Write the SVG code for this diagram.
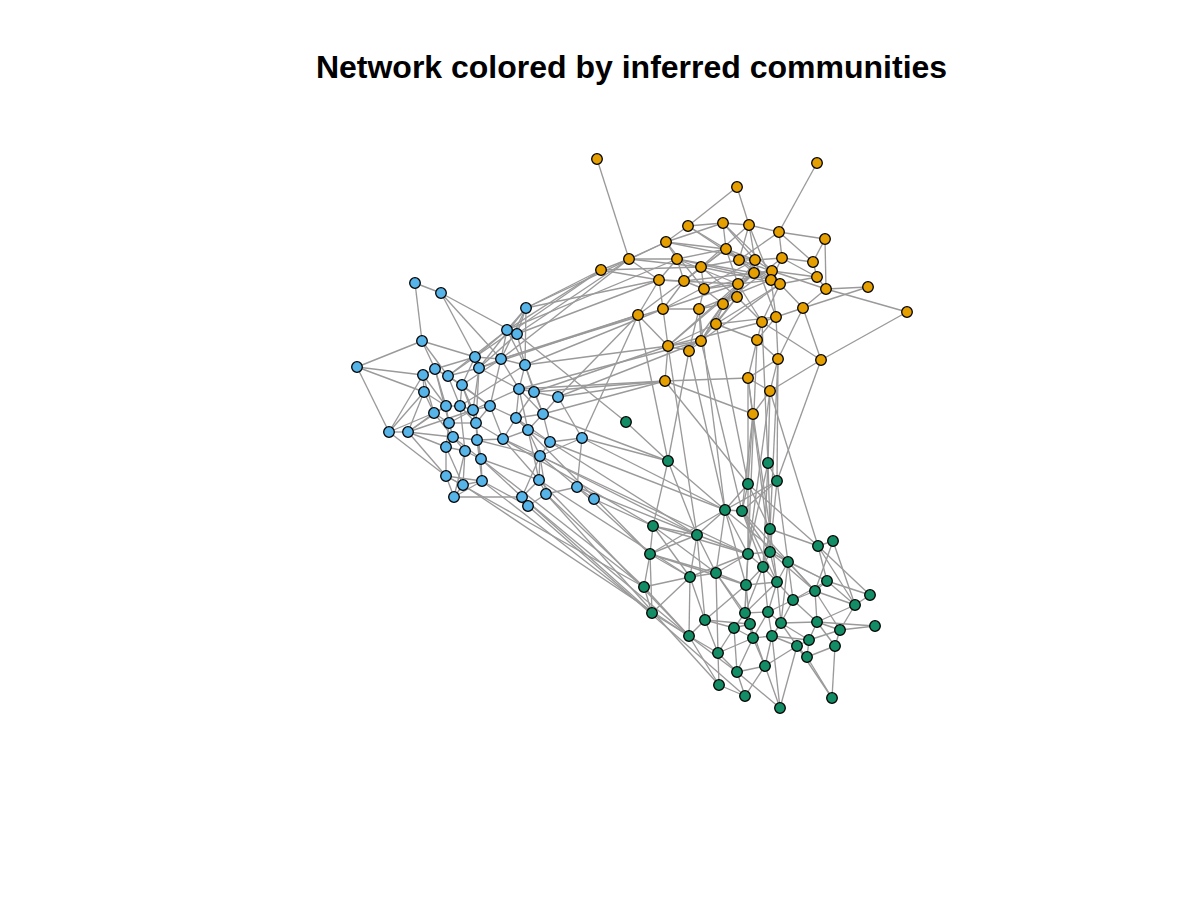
<svg xmlns="http://www.w3.org/2000/svg" width="1200" height="900" viewBox="0 0 1200 900">
<style>
.e path{stroke:#9a9a9a;stroke-width:1.35;fill:none}
circle{stroke:#000;stroke-width:1.3}
.o circle{fill:#E69F00}
.b circle{fill:#56B4E9}
.g circle{fill:#138D65}
.t{font-family:"Liberation Sans",Arial,sans-serif;font-weight:bold;font-size:32px;fill:#000}
</style>
<rect width="1200" height="900" fill="#fff"/>
<text class="t" x="631.5" y="78" text-anchor="middle">Network colored by inferred communities</text>
<g id="edges" class="e">
<path d="M597 159L629 259"/><path d="M817 163L779 232"/><path d="M737 187L688 226"/><path d="M737 187L749 225"/><path d="M688 226L666 242"/><path d="M688 226L723 223"/><path d="M688 226L726 249"/><path d="M723 223L749 225"/><path d="M723 223L726 249"/><path d="M723 223L755 260"/><path d="M749 225L779 232"/><path d="M749 225L755 260"/><path d="M749 225L739 260"/><path d="M749 225L771 280"/><path d="M749 225L701 267"/><path d="M779 232L825 239"/><path d="M779 232L782 258"/><path d="M779 232L813 262"/><path d="M779 232L739 260"/><path d="M825 239L813 262"/><path d="M825 239L826 289"/><path d="M666 242L629 259"/><path d="M666 242L723 223"/><path d="M666 242L755 260"/><path d="M666 242L677 259"/><path d="M629 259L601 270"/><path d="M629 259L677 259"/><path d="M629 259L701 267"/><path d="M629 259L659 280"/><path d="M601 270L659 280"/><path d="M677 259L726 249"/><path d="M677 259L659 280"/><path d="M677 259L754 273"/><path d="M726 249L739 260"/><path d="M726 249L738 284"/><path d="M701 267L739 260"/><path d="M701 267L684 281"/><path d="M701 267L780 284"/><path d="M739 260L755 260"/><path d="M739 260L754 273"/><path d="M739 260L772 271"/><path d="M755 260L782 258"/><path d="M755 260L754 273"/><path d="M755 260L776 317"/><path d="M782 258L813 262"/><path d="M782 258L817 277"/><path d="M782 258L771 280"/><path d="M813 262L817 277"/><path d="M754 273L772 271"/><path d="M754 273L780 284"/><path d="M754 273L723 304"/><path d="M772 271L780 284"/><path d="M772 271L826 289"/><path d="M771 280L780 284"/><path d="M771 280L738 284"/><path d="M780 284L817 277"/><path d="M817 277L826 289"/><path d="M826 289L868 287"/><path d="M826 289L907 312"/><path d="M868 287L803 308"/><path d="M826 289L803 308"/><path d="M780 284L803 308"/><path d="M659 280L684 281"/><path d="M659 280L638 315"/><path d="M659 280L663 309"/><path d="M684 281L704 289"/><path d="M684 281L726 249"/><path d="M704 289L738 284"/><path d="M704 289L699 309"/><path d="M738 284L737 297"/><path d="M738 284L668 346"/><path d="M737 297L723 304"/><path d="M737 297L701 341"/><path d="M737 297L762 322"/><path d="M723 304L699 309"/><path d="M723 304L716 324"/><path d="M803 308L776 317"/><path d="M803 308L778 359"/><path d="M803 308L821 360"/><path d="M776 317L762 322"/><path d="M776 317L778 359"/><path d="M762 322L757 340"/><path d="M762 322L821 360"/><path d="M638 315L668 346"/><path d="M663 309L699 309"/><path d="M663 309L668 346"/><path d="M699 309L701 341"/><path d="M716 324L668 346"/><path d="M716 324L757 340"/><path d="M757 340L748 378"/><path d="M668 346L689 351"/><path d="M668 346L754 273"/><path d="M689 351L701 341"/><path d="M689 351L738 284"/><path d="M701 341L755 260"/><path d="M778 359L770 391"/><path d="M778 359L757 340"/><path d="M821 360L907 312"/><path d="M821 360L770 391"/><path d="M665 381L668 346"/><path d="M665 381L748 378"/><path d="M665 381L753 414"/><path d="M748 378L770 391"/><path d="M748 378L753 414"/><path d="M770 391L753 414"/><path d="M677 259L771 280"/><path d="M704 289L772 271"/><path d="M663 309L755 260"/><path d="M666 242L704 289"/><path d="M601 270L701 267"/><path d="M699 309L771 280"/><path d="M716 324L780 284"/><path d="M723 304L782 258"/><path d="M659 280L738 284"/><path d="M638 315L726 249"/><path d="M684 281L772 271"/><path d="M688 226L739 260"/><path d="M726 249L780 284"/><path d="M701 267L737 297"/><path d="M677 259L738 284"/><path d="M723 223L772 271"/><path d="M701 341L780 284"/><path d="M716 324L776 317"/><path d="M668 346L762 322"/>
<path d="M666 242L726 249"/><path d="M677 259L684 281"/><path d="M701 267L704 289"/><path d="M739 260L771 280"/><path d="M755 260L772 271"/><path d="M754 273L738 284"/><path d="M772 271L817 277"/><path d="M771 280L776 317"/><path d="M780 284L762 322"/><path d="M684 281L663 309"/><path d="M704 289L723 304"/><path d="M738 284L762 322"/><path d="M737 297L716 324"/><path d="M723 304L701 341"/><path d="M699 309L689 351"/><path d="M757 340L776 317"/><path d="M778 359L748 378"/><path d="M668 346L701 341"/><path d="M726 249L755 260"/><path d="M663 309L738 284"/>
<path d="M415 283L441 293"/><path d="M415 283L422 341"/><path d="M441 293L475 357"/><path d="M441 293L517 334"/><path d="M526 308L507 330"/><path d="M526 308L517 334"/><path d="M526 308L501 359"/><path d="M526 308L479 368"/><path d="M507 330L517 334"/><path d="M507 330L475 357"/><path d="M507 330L501 359"/><path d="M507 330L448 376"/><path d="M517 334L525 365"/><path d="M517 334L479 368"/><path d="M422 341L357 367"/><path d="M422 341L475 357"/><path d="M422 341L435 369"/><path d="M357 367L423 375"/><path d="M357 367L424 392"/><path d="M475 357L501 359"/><path d="M475 357L479 368"/><path d="M475 357L435 369"/><path d="M475 357L462 385"/><path d="M501 359L525 365"/><path d="M501 359L490 406"/><path d="M501 359L519 389"/><path d="M525 365L519 389"/><path d="M525 365L534 392"/><path d="M525 365L460 406"/><path d="M479 368L473 410"/><path d="M479 368L448 376"/><path d="M479 368L519 389"/><path d="M435 369L423 375"/><path d="M435 369L448 376"/><path d="M435 369L446 406"/><path d="M423 375L424 392"/><path d="M423 375L434 413"/><path d="M448 376L462 385"/><path d="M448 376L460 406"/><path d="M462 385L473 410"/><path d="M462 385L476 423"/><path d="M462 385L490 406"/><path d="M424 392L446 406"/><path d="M424 392L389 432"/><path d="M424 392L434 413"/><path d="M519 389L534 392"/><path d="M519 389L516 418"/><path d="M519 389L473 410"/><path d="M534 392L558 397"/><path d="M534 392L543 414"/><path d="M558 397L543 414"/><path d="M558 397L582 438"/><path d="M446 406L460 406"/><path d="M446 406L434 413"/><path d="M446 406L449 423"/><path d="M460 406L473 410"/><path d="M460 406L476 423"/><path d="M473 410L490 406"/><path d="M473 410L449 423"/><path d="M490 406L516 418"/><path d="M490 406L476 423"/><path d="M434 413L449 423"/><path d="M434 413L408 432"/><path d="M516 418L543 414"/><path d="M516 418L528 430"/><path d="M516 418L503 439"/><path d="M543 414L528 430"/><path d="M543 414L550 442"/><path d="M449 423L453 437"/><path d="M449 423L476 423"/><path d="M476 423L477 440"/><path d="M476 423L503 439"/><path d="M389 432L408 432"/><path d="M389 432L446 476"/><path d="M408 432L446 406"/><path d="M408 432L446 447"/><path d="M408 432L473 410"/><path d="M453 437L446 447"/><path d="M453 437L465 451"/><path d="M453 437L477 440"/><path d="M477 440L481 459"/><path d="M477 440L503 439"/><path d="M503 439L528 430"/><path d="M503 439L540 456"/><path d="M528 430L550 442"/><path d="M528 430L540 456"/><path d="M550 442L540 456"/><path d="M550 442L582 438"/><path d="M582 438L577 487"/><path d="M446 447L446 476"/><path d="M446 447L465 451"/><path d="M465 451L481 459"/><path d="M465 451L463 485"/><path d="M481 459L482 481"/><path d="M481 459L539 480"/><path d="M540 456L539 480"/><path d="M540 456L546 494"/><path d="M446 476L463 485"/><path d="M446 476L482 481"/><path d="M463 485L454 497"/><path d="M482 481L454 497"/><path d="M463 485L482 481"/><path d="M539 480L522 497"/><path d="M539 480L546 494"/><path d="M454 497L522 497"/><path d="M522 497L528 506"/><path d="M546 494L528 506"/><path d="M546 494L577 487"/><path d="M577 487L594 499"/><path d="M482 481L528 506"/><path d="M477 440L540 456"/><path d="M460 406L465 451"/><path d="M423 375L389 432"/><path d="M525 365L543 414"/><path d="M501 359L462 385"/><path d="M479 368L476 423"/><path d="M519 389L528 430"/><path d="M435 369L449 423"/><path d="M448 376L490 406"/><path d="M422 341L448 376"/><path d="M408 432L453 437"/><path d="M465 451L454 497"/><path d="M481 459L522 497"/><path d="M490 406L503 439"/><path d="M582 438L540 456"/><path d="M522 497L540 456"/><path d="M526 308L525 365"/><path d="M408 432L446 476"/>
<path d="M441 293L501 359"/><path d="M507 330L525 365"/><path d="M475 357L448 376"/><path d="M501 359L479 368"/><path d="M435 369L462 385"/><path d="M423 375L446 406"/><path d="M462 385L460 406"/><path d="M424 392L408 432"/><path d="M519 389L543 414"/><path d="M534 392L516 418"/><path d="M473 410L476 423"/><path d="M434 413L453 437"/><path d="M449 423L446 447"/><path d="M476 423L481 459"/><path d="M453 437L481 459"/><path d="M477 440L482 481"/><path d="M503 439L539 480"/><path d="M528 430L539 480"/><path d="M446 447L463 485"/><path d="M540 456L577 487"/><path d="M446 476L454 497"/><path d="M516 418L550 442"/><path d="M357 367L389 432"/><path d="M389 432L434 413"/>
<path d="M626 422L668 461"/><path d="M668 461L725 510"/><path d="M668 461L653 526"/><path d="M668 461L697 535"/><path d="M768 463L770 529"/><path d="M768 463L748 554"/><path d="M768 463L763 567"/><path d="M777 481L725 510"/><path d="M777 481L742 511"/><path d="M777 481L770 552"/><path d="M777 481L788 562"/><path d="M748 484L725 510"/><path d="M748 484L770 529"/><path d="M748 484L818 546"/><path d="M748 484L748 554"/><path d="M725 510L742 511"/><path d="M725 510L697 535"/><path d="M725 510L748 554"/><path d="M725 510L716 573"/><path d="M725 510L788 562"/><path d="M725 510L746 585"/><path d="M742 511L770 552"/><path d="M742 511L777 582"/><path d="M742 511L763 567"/><path d="M742 511L815 591"/><path d="M653 526L697 535"/><path d="M653 526L748 554"/><path d="M653 526L650 554"/><path d="M653 526L690 577"/><path d="M697 535L650 554"/><path d="M697 535L748 554"/><path d="M697 535L716 573"/><path d="M697 535L705 620"/><path d="M770 529L818 546"/><path d="M770 529L770 552"/><path d="M770 529L763 567"/><path d="M770 529L777 582"/><path d="M650 554L690 577"/><path d="M650 554L716 573"/><path d="M650 554L746 585"/><path d="M748 554L770 552"/><path d="M748 554L763 567"/><path d="M748 554L745 613"/><path d="M770 552L788 562"/><path d="M770 552L777 582"/><path d="M770 552L827 581"/><path d="M818 546L833 541"/><path d="M818 546L827 581"/><path d="M818 546L870 595"/><path d="M818 546L855 605"/><path d="M833 541L855 605"/><path d="M833 541L815 591"/><path d="M763 567L777 582"/><path d="M763 567L746 585"/><path d="M763 567L768 612"/><path d="M788 562L777 582"/><path d="M788 562L827 581"/><path d="M788 562L793 600"/><path d="M716 573L690 577"/><path d="M716 573L746 585"/><path d="M716 573L718 653"/><path d="M716 573L745 613"/><path d="M690 577L689 636"/><path d="M690 577L705 620"/><path d="M690 577L748 554"/><path d="M690 577L644 587"/><path d="M746 585L745 613"/><path d="M746 585L750 624"/><path d="M746 585L777 582"/><path d="M777 582L793 600"/><path d="M777 582L768 612"/><path d="M827 581L815 591"/><path d="M827 581L855 605"/><path d="M827 581L793 600"/><path d="M644 587L689 636"/><path d="M644 587L652 613"/><path d="M652 613L690 577"/><path d="M815 591L793 600"/><path d="M815 591L817 622"/><path d="M815 591L855 605"/><path d="M793 600L781 623"/><path d="M793 600L817 622"/><path d="M870 595L855 605"/><path d="M855 605L840 630"/><path d="M855 605L817 622"/><path d="M745 613L750 624"/><path d="M745 613L768 612"/><path d="M745 613L734 628"/><path d="M768 612L781 623"/><path d="M768 612L772 636"/><path d="M705 620L689 636"/><path d="M705 620L734 628"/><path d="M705 620L750 624"/><path d="M750 624L734 628"/><path d="M750 624L753 638"/><path d="M781 623L772 636"/><path d="M781 623L817 622"/><path d="M817 622L875 626"/><path d="M817 622L809 640"/><path d="M734 628L753 638"/><path d="M734 628L737 672"/><path d="M840 630L835 646"/><path d="M840 630L809 640"/><path d="M689 636L718 653"/><path d="M689 636L737 672"/><path d="M753 638L772 636"/><path d="M753 638L765 666"/><path d="M772 636L797 646"/><path d="M772 636L809 640"/><path d="M809 640L797 646"/><path d="M809 640L807 657"/><path d="M797 646L807 657"/><path d="M797 646L780 708"/><path d="M797 646L832 698"/><path d="M835 646L807 657"/><path d="M718 653L719 685"/><path d="M718 653L737 672"/><path d="M718 653L753 638"/><path d="M765 666L780 708"/><path d="M765 666L737 672"/><path d="M737 672L745 696"/><path d="M719 685L745 696"/><path d="M745 696L765 666"/><path d="M807 657L832 698"/><path d="M765 666L797 646"/><path d="M781 623L797 646"/><path d="M835 646L817 622"/><path d="M750 624L765 666"/><path d="M716 573L750 624"/><path d="M734 628L718 653"/><path d="M748 554L746 585"/><path d="M697 535L690 577"/><path d="M777 582L745 613"/><path d="M788 562L815 591"/><path d="M770 552L763 567"/><path d="M772 636L765 666"/><path d="M768 612L753 638"/><path d="M644 587L650 554"/><path d="M652 613L689 636"/><path d="M870 595L827 581"/><path d="M875 626L840 630"/><path d="M737 672L780 708"/>
<path d="M748 484L742 511"/><path d="M768 463L777 481"/><path d="M725 510L650 554"/><path d="M653 526L716 573"/><path d="M748 554L716 573"/><path d="M770 552L815 591"/><path d="M763 567L745 613"/><path d="M788 562L781 623"/><path d="M746 585L705 620"/><path d="M777 582L781 623"/><path d="M793 600L768 612"/><path d="M745 613L753 638"/><path d="M705 620L718 653"/><path d="M781 623L809 640"/><path d="M817 622L840 630"/><path d="M689 636L719 685"/><path d="M753 638L737 672"/><path d="M772 636L780 708"/><path d="M835 646L832 698"/><path d="M815 591L840 630"/><path d="M650 554L652 613"/>
<path d="M526 308L659 280"/><path d="M526 308L601 270"/><path d="M507 330L601 270"/><path d="M517 334L629 259"/><path d="M526 308L666 242"/><path d="M525 365L668 346"/><path d="M519 389L665 381"/><path d="M534 392L665 381"/><path d="M558 397L701 341"/><path d="M582 438L638 315"/><path d="M479 368L638 315"/><path d="M501 359L663 309"/>
<path d="M601 270L475 357"/><path d="M629 259L501 359"/><path d="M659 280L517 334"/><path d="M638 315L558 397"/><path d="M663 309L525 365"/><path d="M665 381L543 414"/><path d="M668 346L534 392"/><path d="M701 341L519 389"/><path d="M665 381L558 397"/><path d="M638 315L501 359"/><path d="M677 259L507 330"/>
<path d="M689 351L725 510"/><path d="M689 351L668 461"/><path d="M668 346L697 535"/><path d="M821 360L777 481"/><path d="M753 414L748 484"/><path d="M753 414L742 511"/><path d="M753 414L770 529"/><path d="M770 391L768 463"/><path d="M770 391L748 554"/><path d="M770 391L818 546"/><path d="M748 378L748 484"/><path d="M778 359L777 481"/><path d="M665 381L748 484"/>
<path d="M701 341L742 511"/><path d="M699 309L725 510"/><path d="M716 324L748 484"/><path d="M757 340L748 554"/><path d="M762 322L768 463"/><path d="M778 359L770 529"/><path d="M748 378L770 552"/><path d="M638 315L668 461"/>
<path d="M517 334L626 422"/><path d="M582 438L668 461"/><path d="M582 438L725 510"/><path d="M594 499L653 526"/><path d="M577 487L650 554"/><path d="M550 442L697 535"/><path d="M540 456L748 554"/><path d="M546 494L719 685"/><path d="M528 506L745 696"/><path d="M522 497L652 613"/><path d="M446 476L644 587"/><path d="M539 480L689 636"/>
<path d="M481 459L644 587"/><path d="M482 481L652 613"/><path d="M463 485L689 636"/><path d="M550 442L725 510"/><path d="M540 456L697 535"/><path d="M503 439L653 526"/><path d="M543 414L668 461"/><path d="M516 418L650 554"/><path d="M539 480L690 577"/><path d="M577 487L697 535"/><path d="M546 494L644 587"/><path d="M522 497L689 636"/>
</g>
<g id="nodes">
<g id="o1" class="o"><circle cx="597" cy="159" r="5.3"/></g>
<g id="o2" class="o"><circle cx="817" cy="163" r="5.3"/></g>
<g id="o3" class="o"><circle cx="737" cy="187" r="5.3"/></g>
<g id="o4" class="o"><circle cx="688" cy="226" r="5.3"/></g>
<g id="o5" class="o"><circle cx="723" cy="223" r="5.3"/></g>
<g id="o6" class="o"><circle cx="749" cy="225" r="5.3"/></g>
<g id="o7" class="o"><circle cx="779" cy="232" r="5.3"/></g>
<g id="o8" class="o"><circle cx="825" cy="239" r="5.3"/></g>
<g id="o9" class="o"><circle cx="666" cy="242" r="5.3"/></g>
<g id="o10" class="o"><circle cx="629" cy="259" r="5.3"/></g>
<g id="o11" class="o"><circle cx="601" cy="270" r="5.3"/></g>
<g id="o12" class="o"><circle cx="677" cy="259" r="5.3"/></g>
<g id="o13" class="o"><circle cx="726" cy="249" r="5.3"/></g>
<g id="o14" class="o"><circle cx="701" cy="267" r="5.3"/></g>
<g id="o15" class="o"><circle cx="739" cy="260" r="5.3"/></g>
<g id="o16" class="o"><circle cx="755" cy="260" r="5.3"/></g>
<g id="o17" class="o"><circle cx="782" cy="258" r="5.3"/></g>
<g id="o18" class="o"><circle cx="813" cy="262" r="5.3"/></g>
<g id="o19" class="o"><circle cx="754" cy="273" r="5.3"/></g>
<g id="o20" class="o"><circle cx="772" cy="271" r="5.3"/></g>
<g id="o21" class="o"><circle cx="771" cy="280" r="5.3"/></g>
<g id="o22" class="o"><circle cx="780" cy="284" r="5.3"/></g>
<g id="o23" class="o"><circle cx="817" cy="277" r="5.3"/></g>
<g id="o24" class="o"><circle cx="826" cy="289" r="5.3"/></g>
<g id="o25" class="o"><circle cx="868" cy="287" r="5.3"/></g>
<g id="o26" class="o"><circle cx="907" cy="312" r="5.3"/></g>
<g id="o27" class="o"><circle cx="659" cy="280" r="5.3"/></g>
<g id="o28" class="o"><circle cx="684" cy="281" r="5.3"/></g>
<g id="o29" class="o"><circle cx="704" cy="289" r="5.3"/></g>
<g id="o30" class="o"><circle cx="738" cy="284" r="5.3"/></g>
<g id="o31" class="o"><circle cx="737" cy="297" r="5.3"/></g>
<g id="o32" class="o"><circle cx="723" cy="304" r="5.3"/></g>
<g id="o33" class="o"><circle cx="803" cy="308" r="5.3"/></g>
<g id="o34" class="o"><circle cx="776" cy="317" r="5.3"/></g>
<g id="o35" class="o"><circle cx="762" cy="322" r="5.3"/></g>
<g id="o36" class="o"><circle cx="638" cy="315" r="5.3"/></g>
<g id="o37" class="o"><circle cx="663" cy="309" r="5.3"/></g>
<g id="o38" class="o"><circle cx="699" cy="309" r="5.3"/></g>
<g id="o39" class="o"><circle cx="716" cy="324" r="5.3"/></g>
<g id="o40" class="o"><circle cx="757" cy="340" r="5.3"/></g>
<g id="o41" class="o"><circle cx="668" cy="346" r="5.3"/></g>
<g id="o42" class="o"><circle cx="689" cy="351" r="5.3"/></g>
<g id="o43" class="o"><circle cx="701" cy="341" r="5.3"/></g>
<g id="o44" class="o"><circle cx="778" cy="359" r="5.3"/></g>
<g id="o45" class="o"><circle cx="821" cy="360" r="5.3"/></g>
<g id="o46" class="o"><circle cx="665" cy="381" r="5.3"/></g>
<g id="o47" class="o"><circle cx="748" cy="378" r="5.3"/></g>
<g id="o48" class="o"><circle cx="770" cy="391" r="5.3"/></g>
<g id="o49" class="o"><circle cx="753" cy="414" r="5.3"/></g>
<g id="b1" class="b"><circle cx="415" cy="283" r="5.3"/></g>
<g id="b2" class="b"><circle cx="441" cy="293" r="5.3"/></g>
<g id="b3" class="b"><circle cx="526" cy="308" r="5.3"/></g>
<g id="b4" class="b"><circle cx="507" cy="330" r="5.3"/></g>
<g id="b5" class="b"><circle cx="517" cy="334" r="5.3"/></g>
<g id="b6" class="b"><circle cx="422" cy="341" r="5.3"/></g>
<g id="b7" class="b"><circle cx="357" cy="367" r="5.3"/></g>
<g id="b8" class="b"><circle cx="475" cy="357" r="5.3"/></g>
<g id="b9" class="b"><circle cx="501" cy="359" r="5.3"/></g>
<g id="b10" class="b"><circle cx="525" cy="365" r="5.3"/></g>
<g id="b11" class="b"><circle cx="479" cy="368" r="5.3"/></g>
<g id="b12" class="b"><circle cx="435" cy="369" r="5.3"/></g>
<g id="b13" class="b"><circle cx="423" cy="375" r="5.3"/></g>
<g id="b14" class="b"><circle cx="448" cy="376" r="5.3"/></g>
<g id="b15" class="b"><circle cx="462" cy="385" r="5.3"/></g>
<g id="b16" class="b"><circle cx="424" cy="392" r="5.3"/></g>
<g id="b17" class="b"><circle cx="519" cy="389" r="5.3"/></g>
<g id="b18" class="b"><circle cx="534" cy="392" r="5.3"/></g>
<g id="b19" class="b"><circle cx="558" cy="397" r="5.3"/></g>
<g id="b20" class="b"><circle cx="446" cy="406" r="5.3"/></g>
<g id="b21" class="b"><circle cx="460" cy="406" r="5.3"/></g>
<g id="b22" class="b"><circle cx="473" cy="410" r="5.3"/></g>
<g id="b23" class="b"><circle cx="490" cy="406" r="5.3"/></g>
<g id="b24" class="b"><circle cx="434" cy="413" r="5.3"/></g>
<g id="b25" class="b"><circle cx="516" cy="418" r="5.3"/></g>
<g id="b26" class="b"><circle cx="543" cy="414" r="5.3"/></g>
<g id="b27" class="b"><circle cx="449" cy="423" r="5.3"/></g>
<g id="b28" class="b"><circle cx="476" cy="423" r="5.3"/></g>
<g id="b29" class="b"><circle cx="389" cy="432" r="5.3"/></g>
<g id="b30" class="b"><circle cx="408" cy="432" r="5.3"/></g>
<g id="b31" class="b"><circle cx="453" cy="437" r="5.3"/></g>
<g id="b32" class="b"><circle cx="477" cy="440" r="5.3"/></g>
<g id="b33" class="b"><circle cx="503" cy="439" r="5.3"/></g>
<g id="b34" class="b"><circle cx="528" cy="430" r="5.3"/></g>
<g id="b35" class="b"><circle cx="550" cy="442" r="5.3"/></g>
<g id="b36" class="b"><circle cx="582" cy="438" r="5.3"/></g>
<g id="b37" class="b"><circle cx="446" cy="447" r="5.3"/></g>
<g id="b38" class="b"><circle cx="465" cy="451" r="5.3"/></g>
<g id="b39" class="b"><circle cx="481" cy="459" r="5.3"/></g>
<g id="b40" class="b"><circle cx="540" cy="456" r="5.3"/></g>
<g id="b41" class="b"><circle cx="446" cy="476" r="5.3"/></g>
<g id="b42" class="b"><circle cx="463" cy="485" r="5.3"/></g>
<g id="b43" class="b"><circle cx="482" cy="481" r="5.3"/></g>
<g id="b44" class="b"><circle cx="539" cy="480" r="5.3"/></g>
<g id="b45" class="b"><circle cx="454" cy="497" r="5.3"/></g>
<g id="b46" class="b"><circle cx="522" cy="497" r="5.3"/></g>
<g id="b47" class="b"><circle cx="546" cy="494" r="5.3"/></g>
<g id="b48" class="b"><circle cx="528" cy="506" r="5.3"/></g>
<g id="b49" class="b"><circle cx="577" cy="487" r="5.3"/></g>
<g id="b50" class="b"><circle cx="594" cy="499" r="5.3"/></g>
<g id="g1" class="g"><circle cx="626" cy="422" r="5.3"/></g>
<g id="g2" class="g"><circle cx="668" cy="461" r="5.3"/></g>
<g id="g3" class="g"><circle cx="768" cy="463" r="5.3"/></g>
<g id="g4" class="g"><circle cx="777" cy="481" r="5.3"/></g>
<g id="g5" class="g"><circle cx="748" cy="484" r="5.3"/></g>
<g id="g6" class="g"><circle cx="725" cy="510" r="5.3"/></g>
<g id="g7" class="g"><circle cx="742" cy="511" r="5.3"/></g>
<g id="g8" class="g"><circle cx="653" cy="526" r="5.3"/></g>
<g id="g9" class="g"><circle cx="697" cy="535" r="5.3"/></g>
<g id="g10" class="g"><circle cx="770" cy="529" r="5.3"/></g>
<g id="g11" class="g"><circle cx="650" cy="554" r="5.3"/></g>
<g id="g12" class="g"><circle cx="748" cy="554" r="5.3"/></g>
<g id="g13" class="g"><circle cx="770" cy="552" r="5.3"/></g>
<g id="g14" class="g"><circle cx="818" cy="546" r="5.3"/></g>
<g id="g15" class="g"><circle cx="833" cy="541" r="5.3"/></g>
<g id="g16" class="g"><circle cx="763" cy="567" r="5.3"/></g>
<g id="g17" class="g"><circle cx="788" cy="562" r="5.3"/></g>
<g id="g18" class="g"><circle cx="716" cy="573" r="5.3"/></g>
<g id="g19" class="g"><circle cx="690" cy="577" r="5.3"/></g>
<g id="g20" class="g"><circle cx="746" cy="585" r="5.3"/></g>
<g id="g21" class="g"><circle cx="777" cy="582" r="5.3"/></g>
<g id="g22" class="g"><circle cx="827" cy="581" r="5.3"/></g>
<g id="g23" class="g"><circle cx="644" cy="587" r="5.3"/></g>
<g id="g24" class="g"><circle cx="815" cy="591" r="5.3"/></g>
<g id="g25" class="g"><circle cx="793" cy="600" r="5.3"/></g>
<g id="g26" class="g"><circle cx="870" cy="595" r="5.3"/></g>
<g id="g27" class="g"><circle cx="855" cy="605" r="5.3"/></g>
<g id="g28" class="g"><circle cx="652" cy="613" r="5.3"/></g>
<g id="g29" class="g"><circle cx="745" cy="613" r="5.3"/></g>
<g id="g30" class="g"><circle cx="768" cy="612" r="5.3"/></g>
<g id="g31" class="g"><circle cx="705" cy="620" r="5.3"/></g>
<g id="g32" class="g"><circle cx="750" cy="624" r="5.3"/></g>
<g id="g33" class="g"><circle cx="781" cy="623" r="5.3"/></g>
<g id="g34" class="g"><circle cx="817" cy="622" r="5.3"/></g>
<g id="g35" class="g"><circle cx="734" cy="628" r="5.3"/></g>
<g id="g36" class="g"><circle cx="840" cy="630" r="5.3"/></g>
<g id="g37" class="g"><circle cx="875" cy="626" r="5.3"/></g>
<g id="g38" class="g"><circle cx="689" cy="636" r="5.3"/></g>
<g id="g39" class="g"><circle cx="753" cy="638" r="5.3"/></g>
<g id="g40" class="g"><circle cx="772" cy="636" r="5.3"/></g>
<g id="g41" class="g"><circle cx="809" cy="640" r="5.3"/></g>
<g id="g42" class="g"><circle cx="797" cy="646" r="5.3"/></g>
<g id="g43" class="g"><circle cx="835" cy="646" r="5.3"/></g>
<g id="g44" class="g"><circle cx="718" cy="653" r="5.3"/></g>
<g id="g45" class="g"><circle cx="807" cy="657" r="5.3"/></g>
<g id="g46" class="g"><circle cx="765" cy="666" r="5.3"/></g>
<g id="g47" class="g"><circle cx="737" cy="672" r="5.3"/></g>
<g id="g48" class="g"><circle cx="719" cy="685" r="5.3"/></g>
<g id="g49" class="g"><circle cx="745" cy="696" r="5.3"/></g>
<g id="g50" class="g"><circle cx="780" cy="708" r="5.3"/></g>
<g id="g51" class="g"><circle cx="832" cy="698" r="5.3"/></g>
</g>
</svg>
